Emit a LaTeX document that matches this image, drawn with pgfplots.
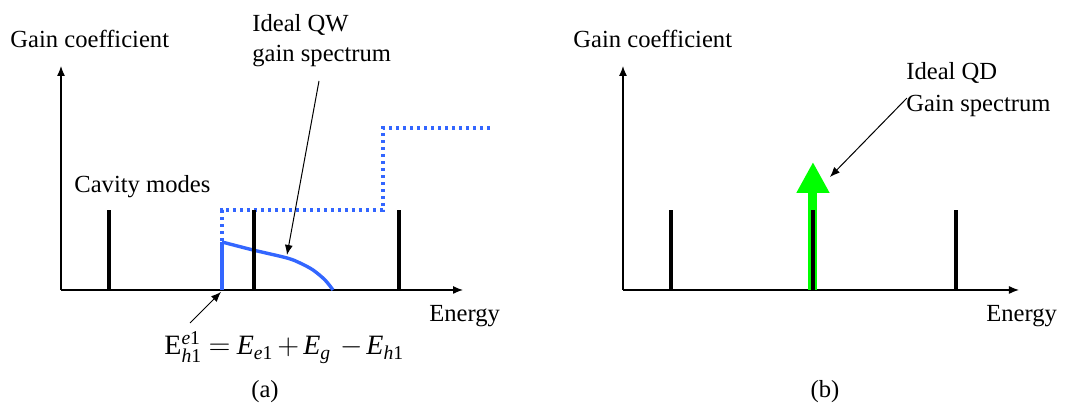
\documentclass[border=0pt]{standalone}
\usepackage{fontspec}
\setmainfont{Liberation Serif}
\usepackage{amsmath}
\usepackage{pgfplots}
\pgfplotsset{compat=1.18}
\usetikzlibrary{arrows.meta}
\definecolor{qwblue}{RGB}{51,102,255}
\definecolor{qdgreen}{RGB}{0,255,0}
\pgfplotsset{panel/.style={
  scale only axis, enlargelimits=false, clip=false,
  axis lines=left,
  axis line style={line width=0.6pt,-{Latex[length=5pt,width=4pt]}},
  xtick=\empty, ytick=\empty,
  ymin=0, ymax=224, height=112pt,
}}
\tikzset{ann/.style={line width=0.5pt,-{Latex[length=5pt,width=4pt]}},
  lbl/.style={inner sep=0pt}}
\begin{document}
\fontsize{12.3}{14}\selectfont
\begin{tikzpicture}[font=\fontsize{12.3}{14}\selectfont]
% ---------- panel (a)
\begin{axis}[panel, xmin=61, xmax=463, width=201pt]
\path (axis cs:0,290) rectangle (axis cs:1071,-120);
% QW step density (dotted)
\addplot[qwblue, line width=1.7pt, dash pattern=on 1.7pt off 1.8pt] coordinates {
 (222,0) (222,80) (383,80) (383,162) (492,162)};
% ideal QW gain spectrum
\addplot[qwblue, line width=1.7pt] coordinates {(222,0) (222,48)};
\addplot[qwblue, line width=1.7pt, smooth] coordinates {
 (222,48) (253,40) (287,32) (300,27) (313,20) (325,10) (333,0)};
% cavity modes
\addplot[ycomb, black, line width=2pt, mark=none] coordinates {
 (109,80) (254,80) (399,80)};
\node[lbl, anchor=base west] at (axis cs:10,242) {Gain coefficient};
\node[lbl, anchor=base west] at (axis cs:252,258) {Ideal QW};
\node[lbl, anchor=base west] at (axis cs:252,228) {gain spectrum};
\node[lbl, anchor=base west] at (axis cs:74,97) {Cavity modes};
\node[lbl, anchor=base west] at (axis cs:429,-32) {Energy};
\node[lbl, anchor=base west, font=\fontsize{14}{17}\selectfont] at (axis cs:164,-65)
 {\medmuskip=2.5mu plus 2mu minus 2mu\thickmuskip=4mu plus 2mu$\text{E}^{\text{\textit{e}1}}_{\text{\textit{h}1}} = \text{\textit{E}}_{\text{\textit{e}1}} + \text{\textit{E}}_{\text{\textit{g}}}\, - \text{\textit{E}}_{\text{\textit{h}1}}$};
\node[lbl, anchor=base] at (axis cs:265,-108) {(a)};
\draw[ann] (axis cs:319,209) -- (axis cs:287,35);
\draw[ann] (axis cs:190,-33) -- (axis cs:221,-2);
\end{axis}
% ---------- panel (b)
\begin{axis}[panel, xmin=623, xmax=1019, width=198pt, at={(281pt,0pt)}]
% ideal QD gain spectrum (delta)
\addplot[qdgreen, line width=4.5pt, -{Triangle[length=15.5pt,width=15.5pt]}] coordinates {
 (813,0) (813,128)};
% cavity modes
\addplot[ycomb, black, line width=2pt, mark=none] coordinates {
 (671,80) (813,80) (956,80)};
\node[lbl, anchor=base west] at (axis cs:573,242) {Gain coefficient};
\node[lbl, anchor=base west] at (axis cs:906,210) {Ideal QD};
\node[lbl, anchor=base west] at (axis cs:906,178) {Gain spectrum};
\node[lbl, anchor=base west] at (axis cs:986,-32) {Energy};
\node[lbl, anchor=base] at (axis cs:825,-108) {(b)};
\draw[ann] (axis cs:907,192) -- (axis cs:830,113);
\end{axis}
\end{tikzpicture}
\end{document}
